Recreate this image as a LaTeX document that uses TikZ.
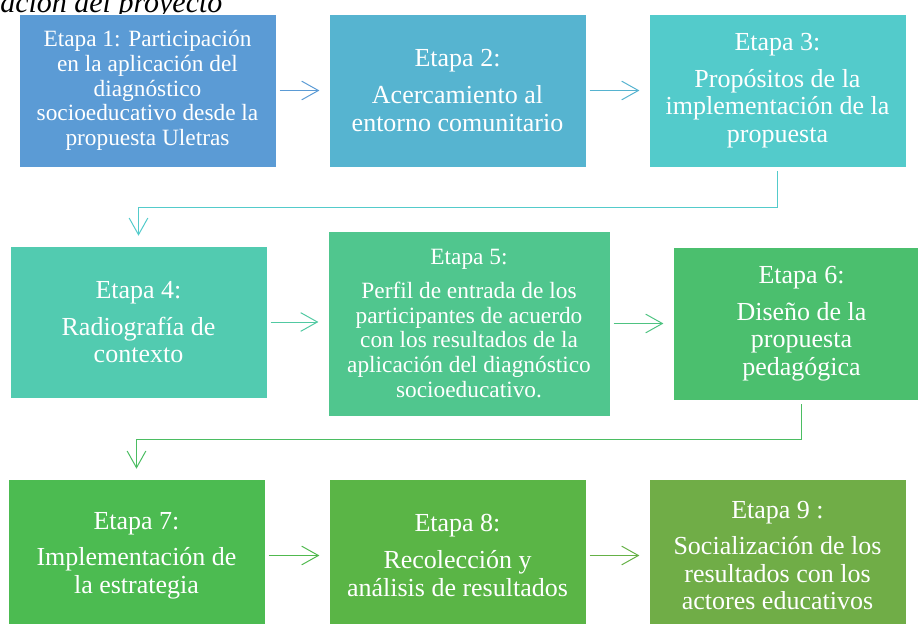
\documentclass[tikz,border=0pt]{standalone}
\usepackage{fontspec}
\setmainfont{Liberation Serif}
\usetikzlibrary{arrows.meta}

\definecolor{etapaA}{HTML}{5B9BD5}
\definecolor{etapaB}{HTML}{56B4D0}
\definecolor{etapaC}{HTML}{53CBCB}
\definecolor{etapaD}{HTML}{52CBB0}
\definecolor{etapaE}{HTML}{50C68E}
\definecolor{etapaF}{HTML}{4BBF6E}
\definecolor{etapaG}{HTML}{4CBB51}
\definecolor{etapaH}{HTML}{5AB546}
\definecolor{etapaI}{HTML}{70AD47}

\newcommand{\txtgrande}{\fontsize{19.5}{20.6}\selectfont}
\newcommand{\txtchico}{\fontsize{17.5}{18.5}\selectfont}

\begin{document}
\begin{tikzpicture}[x=0.75pt, y=-0.75pt,
    caja/.style={rectangle, draw=white, line width=0.4pt, text=white, align=center,
        inner sep=0pt, minimum width=192.75pt, minimum height=114.75pt, font=\txtgrande},
    flecha/.style={-{Straight Barb[length=12.5pt,width=14pt]}, line width=0.75pt,
        shorten <=2.5pt, shorten >=7pt},
    bajada/.style={flecha, shorten <=3pt, shorten >=7.5pt}]

        % Marco
        \useasboundingbox (0,0) rectangle (918,624);
        \clip (0,0) rectangle (918,624);

        % Titulo (cortado arriba)
        \node[anchor=base west, inner sep=0pt, font=\itshape\fontsize{22.5}{27}\selectfont] (titulo) at (0,13) {ación del proyecto};

        % Fila 1
        \node[caja, fill=etapaA, font=\txtchico] (e1) at (147.5,90.5) {Etapa 1: Participación\\ en la aplicación del\\ diagnóstico\\ socioeducativo desde la\\ propuesta Uletras};
        \node[caja, fill=etapaB] (e2) at (457.5,90.5) {Etapa 2:\\[7pt] Acercamiento al\\ entorno comunitario};
        \node[caja, fill=etapaC] (e3) at (777.5,90.5) {Etapa 3:\\[7pt] Propósitos de la\\ implementación de la\\ propuesta};

        % Fila 2
        \node[caja, fill=etapaD, minimum height=114pt] (e4) at (138.5,322) {Etapa 4:\\[7pt] Radiografía de\\ contexto};
        \node[caja, fill=etapaE, font=\txtchico, minimum width=211.5pt, minimum height=138.75pt] (e5) at (469,323.5) {Etapa 5:\\[7pt] Perfil de entrada de los\\ participantes de acuerdo\\ con los resultados de la\\ aplicación del diagnóstico\\ socioeducativo.};
        \node[caja, fill=etapaF] (e6) at (801.5,323.5) {Etapa 6:\\[7pt] Diseño de la\\ propuesta\\ pedagógica};

        % Fila 3
        \node[caja, fill=etapaG] (e7) at (136.5,555.5) {Etapa 7:\\[7pt] Implementación de\\ la estrategia};
        \node[caja, fill=etapaH] (e8) at (457.5,555.5) {Etapa 8:\\[7pt] Recolección y\\ análisis de resultados};
        \node[caja, fill=etapaI] (e9) at (777.5,555.5) {Etapa 9 :\\[7pt] Socialización de los\\ resultados con los\\ actores educativos};

        % Flechas
        \draw[flecha, color=etapaA] (e1.east) -- (e2.west);
        \draw[flecha, color=etapaB!95!etapaA] (e2.east) -- (e3.west);
        \draw[bajada, color=etapaC] (e3.south) -- ++(0,40) -| (e4.north);
        \draw[flecha, color=etapaD!60!etapaE] (e4.east) -- (e4.east -| e5.west);
        \draw[flecha, color=etapaE!60!etapaF] (e5.east |- e6.west) -- (e6.west);
        \draw[bajada, color=etapaF!60!etapaG] (e6.south) -- ++(0,39) -| (e7.north);
        \draw[flecha, color=etapaG!70!etapaH] (e7.east) -- (e8.west);
        \draw[flecha, color=etapaH!50!etapaI] (e8.east) -- (e9.west);

    \end{tikzpicture}
\end{document}
